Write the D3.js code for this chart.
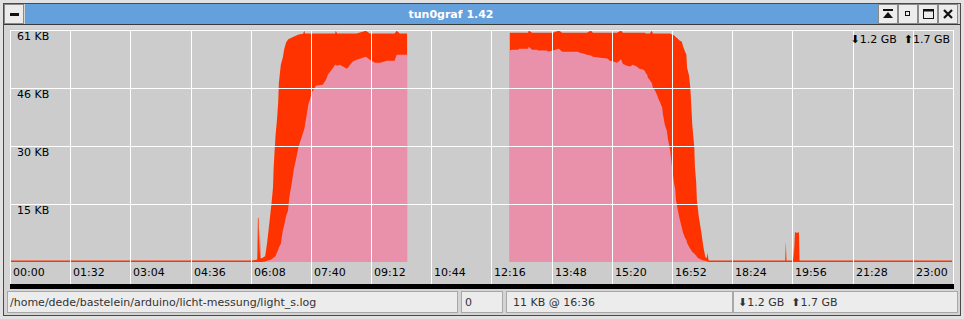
<!DOCTYPE html>
<html>
<head>
<meta charset="utf-8">
<script src="https://cdn.jsdelivr.net/npm/d3@7"></script>
<style>
body{margin:0;background:#d6d6d6;overflow:hidden;}
text{font-family:"DejaVu Sans",sans-serif;}
</style>
</head>
<body>
<script>
// sample times, minutes after midnight (null values = no data)
var minutes=[0,60,120,180,240,300,370,377,378,379,380,381,382,383,385,390,393,397,400,402,403,406,408,410,411,414,417,419,422,425,427,431,434,437,441,448,450,451,456,462,468,478,483,486,492,497,498,500,504,509,515,520,524,530,544,550,558,566,576,588,591,596,607,608,
763,764,767,777,778,792,793,798,806,807,821,822,830,839,844,868,871,876,882,888,891,902,913,917,922,928,934,937,943,948,952,958,962,968,971,972,974,975,978,981,983,986,989,991,994,997,998,1001,1004,1006,1009,1012,1015,1017,1018,1021,1023,1027,1029,1032,1034,1035,1038,1040,1041,1043,1046,1047,1049,1050,1053,1057,1060,1063,1065,1066,1068,1070,
1120,1185,1186,1187,1196,1197,1198,1200,1203,1206,1207,1260,1320,1380,1440];

// upload rate, KB/s (red)
var upKB=[0.4,0.4,0.4,0.4,0.4,0.4,0.4,0.6,0.8,11.6,11.6,2,8.7,1,1,1.5,5,11,15.8,19.5,24.7,33.4,37,42,47,51.8,53.6,55.7,57.6,58.4,58.6,58.9,59.2,59.4,59.7,59.9,60.7,60,60,60,60,60,60,60,60,60,60.7,60,60,60,60,60,60,60,60.7,60,60,60,60,60,60.7,60,60,null,
null,60.2,60.2,60.2,60.2,60.2,60.8,60.2,60.2,60.2,60.2,60.2,60.2,60.8,60.2,60.2,60.2,60.2,60.2,60.8,60.2,60.2,60.2,60.2,60.2,60.2,60.8,60.2,60.2,60.2,60.2,60.2,60.2,60.2,60.2,60,60,60,60,60.7,60,60,60,60,60,60,60,60,60,60,60,59.7,59.5,59.2,59,58.6,58.2,57.8,56.6,55.2,54.4,51,49,45.7,42.6,36,30.2,25,20.8,16.3,11.8,7.6,3.9,1.3,1,2.4,0.4,0.4,
0.4,0.4,5.3,0.4,0.4,4,0.4,7.9,7.6,7.9,0.4,0.4,0.4,0.4,0.4];

// download rate, KB/s (pink)
var downKB=[0,0,0,0,0,0,0,0,0,0,0,0,0,0,0,0.1,0.3,0.5,0.7,1,1.2,1.6,2.4,3.2,3.8,4.8,8.2,9.5,12,13.5,17,21,24.5,26.8,30.2,33.9,35,36,41.3,44.7,46.3,46.5,47.8,49.2,50.5,51.8,51.8,51.5,51.8,51.3,50.7,51.8,52.6,53.1,53.9,53.1,52.3,52.3,52.8,52.8,54.4,54.4,54.4,null,
null,55.5,55.7,55.7,56,56,56.5,55.7,55.7,55.5,55.5,55.2,55.5,56,55.2,55.2,54.9,54.7,54.4,54.2,53.9,53.6,53.4,52.8,52.6,52.3,53.2,52,51.5,51.3,51.8,51.3,50.7,50.5,50,49.5,49.2,48.4,47.8,47,45.7,45,43.9,42.9,41.8,40.5,38.9,36,34.5,32,29.4,25,20.8,19,16.3,13.5,11.8,9,7.6,6.3,5.8,5,4,3.4,3.2,2.6,2.2,2,1.7,1.3,0.9,0.6,0.4,0.3,0.2,0.1,0,0,
0,0,0,0,0,0,0,0,0,0,0,0,0,0,0];

var yTickKB=[60.9,45.7,30.45,15.2];
var xTickLabels=["00:00","01:32","03:04","04:36","06:08","07:40","09:12","10:44","12:16","13:48","15:20","16:52","18:24","19:56","21:28","23:00"];
var totalDown="1.2 GB", totalUp="1.7 GB";
var logFile="/home/dede/bastelein/arduino/licht-messung/light_s.log";
var statusCount="0", statusPeak="11 KB @ 16:36";
var title="tun0graf 1.42";

var W=964,H=319;
var svg=d3.select("body").append("svg").attr("width",W).attr("height",H);

// window frame
svg.append("rect").attr("x",0).attr("y",0).attr("width",W).attr("height",H).attr("fill","#e2e2e2");
svg.append("rect").attr("x",3.5).attr("y",3.5).attr("width",957).attr("height",312).attr("fill","#d4d4d4").attr("stroke","#4a4a4a");

// title bar
svg.append("rect").attr("x",25).attr("y",4).attr("width",853).attr("height",20).attr("fill","#64a0dc");
svg.append("line").attr("x1",4).attr("x2",960).attr("y1",24.5).attr("y2",24.5).attr("stroke","#3a3a3a");
svg.append("text").attr("x",451).attr("y",18).attr("text-anchor","middle").style("font-size","11px").style("font-weight","bold").attr("fill","#ffffff").text(title);

function button(x){
	return svg.append("rect").attr("x",x+0.5).attr("y",4.5).attr("width",19).attr("height",19).attr("fill","#ececec").attr("stroke","#8a8a8a");
}
button(4);
svg.append("rect").attr("x",10).attr("y",13).attr("width",9).attr("height",3).attr("fill","#111");
button(878);button(898);button(918);button(938);
svg.append("rect").attr("x",883).attr("y",9).attr("width",10).attr("height",2).attr("fill","#111");
svg.append("path").attr("d","M883 18 L888 12 L893 18 Z").attr("fill","#111");
svg.append("rect").attr("x",905.5).attr("y",11.5).attr("width",4).attr("height",4).attr("fill","none").attr("stroke","#111");
svg.append("rect").attr("x",923.5).attr("y",9.5).attr("width",10).attr("height",9).attr("fill","none").attr("stroke","#111").attr("stroke-width",1);
svg.append("line").attr("x1",923).attr("x2",934).attr("y1",10.5).attr("y2",10.5).attr("stroke","#111").attr("stroke-width",2);
svg.append("path").attr("d","M944 10 L952 18 M952 10 L944 18").attr("stroke","#111").attr("stroke-width",2.2);

// plot
var x=d3.scaleLinear().domain([0,1440]).range([10,952]);
var y=d3.scaleLinear().domain([0,60.9]).range([262,30]);

svg.append("rect").attr("x",10).attr("y",29).attr("width",943).attr("height",255).attr("fill","#cccccc");

var rows=minutes.map(function(m,i){return {m:m,up:upKB[i],down:downKB[i]};});

var upArea=d3.area().defined(function(d){return d.up!=null;})
	.x(function(d){return x(d.m);}).y0(y(0)).y1(function(d){return y(d.up);});
var downArea=d3.area().defined(function(d){return d.down!=null;})
	.x(function(d){return x(d.m);}).y0(y(0)).y1(function(d){return y(d.down);});

svg.append("path").datum(rows).attr("d",upArea).attr("fill","#ff3300");
svg.append("path").datum(rows).attr("d",downArea).attr("fill","#e991ab");

// grid
function toMin(s){var p=s.split(":");return +p[0]*60+ +p[1];}
svg.selectAll(".hgrid").data(yTickKB).enter().append("line")
	.attr("x1",10).attr("x2",953).attr("y1",function(d){return Math.round(y(d))+0.5;}).attr("y2",function(d){return Math.round(y(d))+0.5;})
	.attr("stroke","#ffffff");
svg.selectAll(".vgrid").data(xTickLabels).enter().append("line")
	.attr("x1",function(d){return Math.round(x(toMin(d)))+0.5;}).attr("x2",function(d){return Math.round(x(toMin(d)))+0.5;})
	.attr("y1",30).attr("y2",284).attr("stroke","#ffffff");
svg.append("line").attr("x1",953.5).attr("x2",953.5).attr("y1",30).attr("y2",284).attr("stroke","#ffffff");

svg.selectAll(".ylab").data(yTickKB).enter().append("text")
	.attr("x",17).attr("y",function(d){return Math.round(y(d))+10;})
	.style("font-size","11px").attr("fill","#000")
	.text(function(d){return Math.round(d)+" KB";});
svg.selectAll(".xlab").data(xTickLabels).enter().append("text")
	.attr("x",function(d){return Math.round(x(toMin(d)))+3;}).attr("y",276)
	.style("font-size","11px").attr("fill","#000")
	.text(function(d){return d;});

svg.append("text").attr("x",950).attr("y",43).attr("text-anchor","end").style("font-size","11px").attr("fill","#000")
	.text("\u2B07"+totalDown+"  \u2B06"+totalUp).attr("xml:space","preserve");

// black bar under the axis
svg.append("rect").attr("x",10).attr("y",284).attr("width",944).attr("height",5).attr("fill","#000");

// status bar
function field(x0,w,txt,pad){
	svg.append("rect").attr("x",x0+0.5).attr("y",291.5).attr("width",w).attr("height",21).attr("fill","#ececec").attr("stroke","#a8a8a8");
	svg.append("text").attr("x",x0+pad).attr("y",306).style("font-size","11px").attr("fill","#333").attr("xml:space","preserve").text(txt);
}
field(7,450,logFile,3);
field(461,41,statusCount,4);
field(506,226,statusPeak,7);
field(733,224,"\u2B07"+totalDown+"  \u2B06"+totalUp,5);
</script>
</body>
</html>
